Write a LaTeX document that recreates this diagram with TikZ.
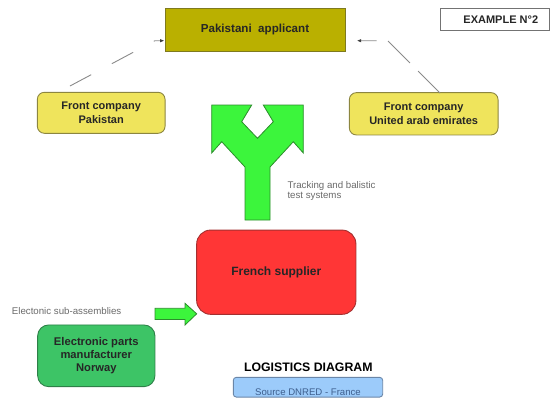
\documentclass[tikz,border=0pt]{standalone}
\usepackage{fontspec}
\setmainfont{Liberation Sans}
\usetikzlibrary{arrows.meta}

\definecolor{applicantfill}{HTML}{BAB000}
\definecolor{applicantedge}{HTML}{7F7A1E}
\definecolor{frontfill}{HTML}{EFE45C}
\definecolor{frontedge}{HTML}{8C8640}
\definecolor{supplierfill}{HTML}{FF3636}
\definecolor{supplieredge}{HTML}{A33030}
\definecolor{norwayfill}{HTML}{3DC466}
\definecolor{norwayedge}{HTML}{2E8048}
\definecolor{flowfill}{HTML}{3CF53C}
\definecolor{flowedge}{HTML}{2C8C2C}
\definecolor{sourcefill}{HTML}{9CCBFA}
\definecolor{sourceedge}{HTML}{6A86A8}
\definecolor{sourcetext}{HTML}{3E5F8E}
\definecolor{linkgray}{HTML}{8A8A8A}
\definecolor{notegray}{HTML}{6A6A6A}

\tikzset{
  entity/.style={draw, line width=0.9pt, align=center, inner sep=0pt,
    font=\bfseries\fontsize{11}{14.5}\selectfont, text=black!85},
  applicantbox/.style={entity, fill=applicantfill, draw=applicantedge,
    font=\bfseries\fontsize{11.6}{14}\selectfont},
  frontbox/.style={entity, fill=frontfill, draw=frontedge, rounded corners=7pt},
  supplierbox/.style={entity, fill=supplierfill, draw=supplieredge, rounded corners=14pt,
    font=\bfseries\fontsize{12}{14}\selectfont},
  norwaybox/.style={entity, fill=norwayfill, draw=norwayedge, rounded corners=11pt,
    font=\bfseries\fontsize{11.2}{13}\selectfont},
  tagbox/.style={entity, fill=white, draw=black!55, line width=0.8pt},
  sourcebox/.style={draw=sourceedge, fill=sourcefill, line width=0.9pt, rounded corners=3pt},
  note/.style={text=notegray, align=left, inner sep=0pt,
    font=\fontsize{9.7}{10}\selectfont},
  dashlink/.style={draw=linkgray, line width=0.9pt,
    -{Latex[length=4.5pt,width=3.5pt,color=black!75]}},
  flowarrow/.style={fill=flowfill, draw=flowedge, line width=0.8pt, line join=miter},
}

\begin{document}
\begin{tikzpicture}[x=1pt,y=-1pt]
\useasboundingbox (0,0) rectangle (550,399);

% boxes
\node[applicantbox, minimum width=180pt, minimum height=42.7pt] (app) at (255,29.7) {Pakistani\ \ applicant};
\node[tagbox, minimum width=108.3pt, minimum height=21.7pt] (tag) at (494.8,19.2) {\hspace*{12pt}EXAMPLE N°2};
\node[frontbox, minimum width=127.7pt, minimum height=41pt] (fcp) at (101.2,112.8) {Front company\\Pakistan};
\node[frontbox, minimum width=148.7pt, minimum height=42.3pt] (fcu) at (423.7,113.8) {Front company\\United arab emirates};
\node[supplierbox, minimum width=159.3pt, minimum height=84.3pt] (sup) at (276.3,272.2) {French supplier};
\node[norwaybox, minimum width=117.3pt, minimum height=61.7pt] (nor) at (96.3,355.8) {Electronic parts\\manufacturer\\Norway};

% title and source
\node[font=\bfseries\fontsize{12.3}{14}\selectfont, inner sep=0pt] (title) at (308.3,367) {LOGISTICS DIAGRAM};
\node[sourcebox, minimum width=149.4pt, minimum height=19.7pt, inner sep=0pt] (src) at (308,387.2) {};
\node[text=sourcetext, font=\fontsize{9.6}{10}\selectfont, inner sep=0pt] (srctext) at (308,392.4) {Source DNRED - France};

% notes
\node[note, anchor=west] (track) at (287.3,191) {Tracking and balistic\\test systems};
\node[note, anchor=west] (subasm) at (11.7,310.7) {Electonic sub-assemblies};

% dashed links from the front companies to the applicant
\coordinate (lstart) at (70,86);
\coordinate (lbend) at (155,40.7);
\coordinate (rstart) at (440,93);
\coordinate (rbend) at (387.7,40.7);
\coordinate (rtip) at (356.7,40.7);
\draw[dashlink, dash pattern=on 24pt off 23.5pt] (lstart) -- (lbend) -- (app.west |- lbend);
\draw[dashlink, dash pattern=on 31pt off 11.5pt] (rstart) -- (rbend) -- (rtip);

% split flow arrow out of the supplier
\draw[flowarrow] (245,220) -- (245,167) -- (221.7,141.7) -- (211.7,153) -- (211.7,105)
  -- (251.7,105) -- (241.7,121.7) -- (257.5,138.3) -- (273.3,121.7) -- (263.3,105)
  -- (303.3,105) -- (303.3,153) -- (293.3,141.7) -- (270,167) -- (270,220) -- cycle;

% supply arrow into the supplier
\draw[flowarrow] (155,308.3) -- (185,308.3) -- (185,303.3) -- (196.7,313.8)
  -- (185,325) -- (185,319.5) -- (155,319.5) -- cycle;
\end{tikzpicture}
\end{document}
